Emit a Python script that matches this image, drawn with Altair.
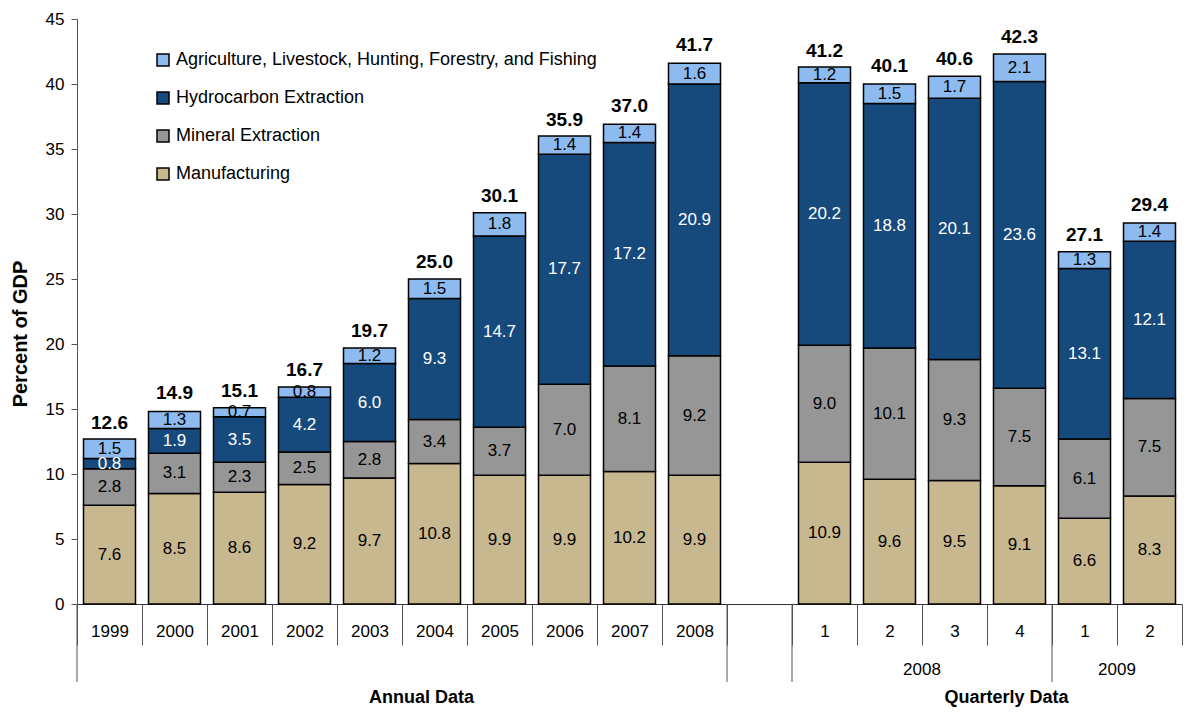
import altair as alt
import pandas as pd

# ---------------- data ----------------
cats = ["1999", "2000", "2001", "2002", "2003", "2004", "2005", "2006", "2007", "2008",
        "gap",
        "2008 Q1", "2008 Q2", "2008 Q3", "2008 Q4", "2009 Q1", "2009 Q2"]
tick_labels = ["1999", "2000", "2001", "2002", "2003", "2004", "2005", "2006", "2007", "2008",
               "",
               "1", "2", "3", "4", "1", "2"]

bar_cats = [c for c in cats if c != "gap"]
manufacturing = [7.6, 8.5, 8.6, 9.2, 9.7, 10.8, 9.9, 9.9, 10.2, 9.9, 10.9, 9.6, 9.5, 9.1, 6.6, 8.3]
mineral = [2.8, 3.1, 2.3, 2.5, 2.8, 3.4, 3.7, 7.0, 8.1, 9.2, 9.0, 10.1, 9.3, 7.5, 6.1, 7.5]
hydrocarbon = [0.8, 1.9, 3.5, 4.2, 6.0, 9.3, 14.7, 17.7, 17.2, 20.9, 20.2, 18.8, 20.1, 23.6, 13.1, 12.1]
agriculture = [1.5, 1.3, 0.7, 0.8, 1.2, 1.5, 1.8, 1.4, 1.4, 1.6, 1.2, 1.5, 1.7, 2.1, 1.3, 1.4]
totals = [12.6, 14.9, 15.1, 16.7, 19.7, 25.0, 30.1, 35.9, 37.0, 41.7, 41.2, 40.1, 40.6, 42.3, 27.1, 29.4]

sectors = ["Manufacturing", "Mineral Extraction", "Hydrocarbon Extraction",
           "Agriculture, Livestock, Hunting, Forestry, and Fishing"]
series = [manufacturing, mineral, hydrocarbon, agriculture]
legend_order = sectors[::-1]
legend_colors = ["#8DBBEF", "#174A7C", "#969696", "#C8B88F"]

group_labels = ["2008", "2009"]
group_anchor = ["2008 Q3", "2009 Q2"]
section_labels = ["Annual Data", "Quarterly Data"]
section_anchor = ["2004", "2008 Q4"]
long_divider_cats = ["1999", "gap", "2008 Q1", "2009 Q1"]

# ---------------- tables ----------------
rows = []
for si, (s, vals) in enumerate(zip(sectors, series)):
    for c, v in zip(bar_cats, vals):
        rows.append({"cat": c, "sector": s, "value": v, "ord": si,
                     "lbl": f"{v:.1f}"})
df = pd.DataFrame(rows)
df_tot = pd.DataFrame({"cat": bar_cats, "total": totals,
                       "lbl": [f"{t:.1f}" for t in totals]})
df_groups = pd.DataFrame({"cat": group_anchor, "txt": group_labels})
df_sections = pd.DataFrame({"cat": section_anchor, "txt": section_labels})
df_long = pd.DataFrame({"cat": long_divider_cats})

W = 17 * 65
H = 585
FONT = "Liberation Sans"

label_expr = ("[" + ",".join(f"'{l}'" for l in tick_labels) + "][indexof(["
              + ",".join(f"'{c}'" for c in cats) + "], datum.value)]")

xscale = alt.Scale(domain=cats, paddingInner=0, paddingOuter=0)
yscale = alt.Scale(domain=[0, 45], nice=False)

x_axis = alt.Axis(title=None, labelExpr=label_expr, tickBand="extent", tickSize=41,
                  labelPadding=-22, labelFontSize=17, labelAngle=0, labelColor="black",
                  tickColor="#555555", domainColor="#333333", labelFont=FONT)
y_axis = alt.Axis(title="Percent of GDP", values=list(range(0, 50, 5)), grid=False,
                  tickSize=6, labelPadding=7, labelFontSize=17, labelColor="black",
                  tickColor="#555555", domainColor="#555555", titleFontSize=20,
                  titleFontWeight="bold", titlePadding=15, titleFont=FONT,
                  labelFont=FONT, titleColor="black", titleY=H / 2 + 22)

bars = alt.Chart(df).mark_bar(width=alt.RelativeBandSize(0.8), stroke="black",
                              strokeWidth=1.5).encode(
    x=alt.X("cat:N", scale=xscale, axis=x_axis, sort=cats),
    y=alt.Y("value:Q", stack="zero", scale=yscale, axis=y_axis),
    color=alt.Color("sector:N",
                    scale=alt.Scale(domain=legend_order, range=legend_colors),
                    legend=alt.Legend(title=None, orient="none", legendX=77, legendY=32,
                                      symbolType="square", symbolSize=144,
                                      symbolStrokeColor="black", symbolStrokeWidth=1.5,
                                      labelFontSize=18, labelLimit=700, rowPadding=20,
                                      labelFont=FONT, labelColor="black",
                                      labelOffset=4)),
    order=alt.Order("ord:Q"),
)

seg_text = alt.Chart(df).transform_stack(
    stack="value", groupby=["cat"], as_=["y0", "y1"],
    sort=[alt.SortField("ord", order="ascending")]
).transform_calculate(mid="(datum.y0 + datum.y1) / 2").mark_text(
    fontSize=17, font=FONT, baseline="middle"
).encode(
    x=alt.X("cat:N", scale=xscale),
    y=alt.Y("mid:Q", scale=yscale, stack=False),
    text="lbl:N",
    color=alt.condition(alt.datum.sector == "Hydrocarbon Extraction",
                        alt.value("white"), alt.value("black")),
)

tot_text = alt.Chart(df_tot).mark_text(
    fontSize=19, fontWeight="bold", font=FONT, baseline="alphabetic", dy=-11, color="black"
).encode(
    x=alt.X("cat:N", scale=xscale),
    y=alt.Y("total:Q", scale=yscale),
    text="lbl:N",
)

long_rules = alt.Chart(df_long).mark_rule(color="#555555", strokeWidth=1).encode(
    x=alt.X("cat:N", scale=xscale, bandPosition=0),
    y=alt.value(H),
    y2=alt.value(H + 78),
)

group_text = alt.Chart(df_groups).mark_text(
    fontSize=17, font=FONT, baseline="middle", color="black"
).encode(
    x=alt.X("cat:N", scale=xscale, bandPosition=0),
    y=alt.value(H + 66),
    text="txt:N",
)

section_text = alt.Chart(df_sections).mark_text(
    fontSize=18, fontWeight="bold", font=FONT, baseline="middle", color="black"
).encode(
    x=alt.X("cat:N", scale=xscale, bandPosition=0.3),
    y=alt.value(H + 94),
    text="txt:N",
)

chart = alt.layer(bars, seg_text, tot_text, long_rules, group_text, section_text).properties(
    width=W, height=H, padding=2
).configure_view(stroke=None).configure_text(font=FONT)

chart.save("out.html", embed_options={"renderer": "svg", "actions": False})
